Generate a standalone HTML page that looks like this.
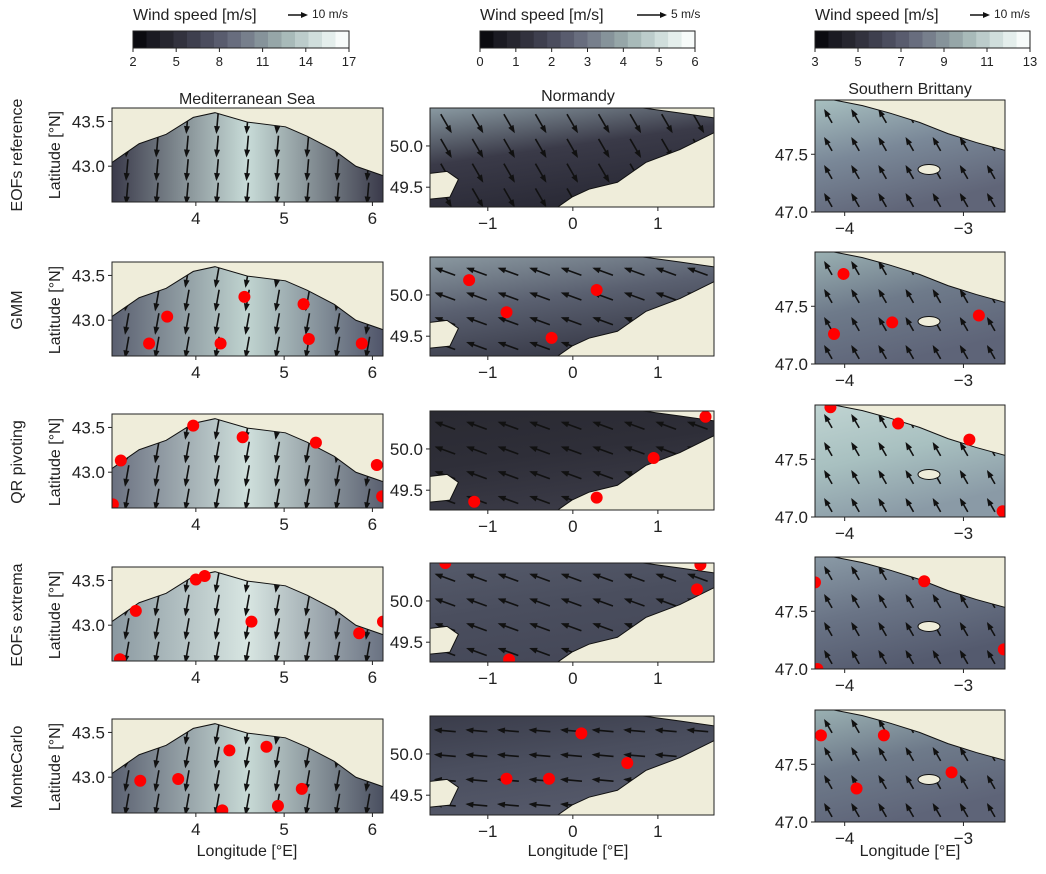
<!DOCTYPE html>
<html><head><meta charset="utf-8"><style>
body{margin:0;background:#fff;}
svg text{font-family:"Liberation Sans","DejaVu Sans",sans-serif;fill:#222;}
</style></head><body>
<svg id="fig" width="1046" height="869" xmlns="http://www.w3.org/2000/svg"></svg>
<script>
// ---------- data ----------
const rowLabels=["EOFs reference","GMM","QR pivoting","EOFs extrema","MonteCarlo"];
const colTitles=["Mediterranean Sea","Normandy","Southern Brittany"];
const cbTicks=[[2,5,8,11,14,17],[0,1,2,3,4,5,6],[3,5,7,9,11,13]];
const cbKeys=["10 m/s","5 m/s","10 m/s"];
const xTicks=[[4,5,6],[-1,0,1],[-4,-3]];
const yTicks=[[43.0,43.5],[49.5,50.0],[47.0,47.5]];
const lonExt=[[3.05,6.12],[-1.68,1.66],[-4.25,-2.65]];
const latExt=[[42.6,43.65],[49.26,50.46],[47.0,47.97]];
// sensor points per panel [lon,lat]
const medPts=[[],
 [[3.47,42.74],[3.675,43.04],[4.28,42.74],[4.55,43.26],[5.22,43.18],[5.28,42.79],[5.88,42.74]],
 [[3.06,42.64],[3.15,43.13],[3.97,43.52],[4.53,43.39],[5.36,43.33],[6.05,43.08],[6.11,42.73]],
 [[3.14,42.62],[3.32,43.16],[4.0,43.51],[4.1,43.55],[4.63,43.04],[5.85,42.91],[6.12,43.04]],
 [[3.37,42.96],[3.8,42.98],[4.3,42.63],[4.38,43.3],[4.8,43.34],[4.93,42.68],[5.2,42.87]]];
const norPts=[[],
 [[-1.22,50.18],[-0.78,49.79],[-0.25,49.48],[0.28,50.06]],
 [[-1.16,49.36],[0.28,49.41],[0.95,49.89],[1.56,50.39]],
 [[-1.5,50.46],[-0.75,49.29],[1.46,50.14],[1.5,50.44]],
 [[-0.78,49.7],[-0.28,49.7],[0.1,50.25],[0.64,49.89]]];
const briPts=[[],
 [[-4.01,47.78],[-4.09,47.26],[-3.6,47.36],[-2.87,47.42]],
 [[-4.12,47.95],[-3.55,47.81],[-2.95,47.67],[-2.67,47.05]],
 [[-4.25,47.75],[-4.23,47.0],[-3.33,47.76],[-2.66,47.17]],
 [[-4.2,47.75],[-3.67,47.75],[-3.9,47.29],[-3.1,47.43]]];
const allPts=[medPts,norPts,briPts];
// arrow direction (deg, 0=east, 90=south) per panel
const arrowDir=[[95,100,100,100,100],[60,200,200,200,185],[240,240,240,240,240]];
// ---------- layout ----------
const colX=[[112,383],[430,714],[815,1005]];
const rowTop=[[108,262,414,567,719],[108,257,411,563,716],[100,252,405,557,710]];
const rowH=[94,99,112];
const seaCols=[
 [["#3a3a4a","#c8dcd8","#3a3a4a"],["#5a5f70","#c0d4d0","#50556a"],["#6a7080","#cfe0dc","#5a6070"],["#8a98a0","#d8e6e2","#6a7282"],["#5a6070","#c8dad6","#4a4f60"]],
 [["#8a9aa2","#3a3a48","#2a2a36"],["#8a98a0","#5a6070","#3a3c4a"],["#2a2a32","#2e2e38","#3a3a46"],["#555a6a","#4a4e5e","#454858"],["#3a3c4a","#4a4e5e","#55596a"]],
 [["#a8c0c0","#7a8898","#606578"],["#9ab0b2","#6e7a8a","#5e6478"],["#c0d4d2","#a8c0c0","#8a9aa6"],["#8a9aa6","#6a7486","#545a6e"],["#9ab0b2","#6e7a8a","#5e6478"]]];
const land=[
 [[0,0],[1,0],[1,0.72],[0.9,0.62],[0.82,0.45],[0.72,0.3],[0.64,0.2],[0.5,0.15],[0.38,0.05],[0.3,0.1],[0.2,0.28],[0.1,0.38],[0,0.58]],
 [[1,0.25],[0.88,0.42],[0.76,0.55],[0.66,0.75],[0.56,0.82],[0.5,0.9],[0.45,1],[1,1]],
 [[0.1,0],[1,0],[1,0.45],[0.85,0.38],[0.7,0.3],[0.55,0.2],[0.4,0.12],[0.25,0.05]]];
const land2=[null,[[0.75,0],[1,0],[1,0.1],[0.88,0.05]],null];
const cot=[[0,0.66],[0.06,0.64],[0.1,0.72],[0.07,0.9],[0,0.92]];
const svg=document.getElementById('fig');const NS="http://www.w3.org/2000/svg";
function mk(t,a,p){const e=document.createElementNS(NS,t);for(const k in a)e.setAttribute(k,a[k]);(p||svg).appendChild(e);return e;}
function txt(x,y,s,size,anchor,p,rot){const e=mk('text',{x:x,y:y,'font-size':size,'text-anchor':anchor||'middle'},p);if(rot)e.setAttribute('transform',`rotate(-90 ${x} ${y})`);e.textContent=s;return e;}
const defs=mk('defs',{});
const cbCols=["#0b0b10","#1a1a22","#26262f","#32323e","#3e3f4e","#4b4d5e","#595c6e","#686d7e","#777f8c","#86939a","#96a6a8","#a8bab9","#bccccb","#d0dedc","#e4eeec","#f7fbfa"];
// colorbars
const cbX=[[133,349],[480,695],[815,1030]];
for(let c=0;c<3;c++){
 const g=mk('g',{},svg);
 const[x0,x1]=cbX[c];const w=(x1-x0)/cbCols.length;
 cbCols.forEach((col,i)=>mk('rect',{x:x0+i*w,y:31,width:w+0.5,height:17,fill:col},g));
 mk('rect',{x:x0,y:31,width:x1-x0,height:17,fill:'none',stroke:'#222','stroke-width':1},g);
 const tk=cbTicks[c];
 tk.forEach((v,i)=>{const x=x0+(x1-x0)*(v-tk[0])/(tk[tk.length-1]-tk[0]);mk('line',{x1:x,x2:x,y1:48,y2:52,stroke:'#222'},g);txt(x,66,String(v),13,'middle',g);});
 const t=txt(x0,20,"Wind speed [m/s]",16,'start',g);
 const kx=x0+(c==1?157:155);
 mk('line',{x1:kx,x2:kx+(c==1?26:16),y1:15,y2:15,stroke:'#111','stroke-width':1.5},g);
 const ax=kx+(c==1?26:16);mk('path',{d:`M${ax+4},15 L${ax-3},12 L${ax-3},18Z`,fill:'#111'},g);
 txt(ax+8,18,cbKeys[c],12,'start',g);
}
// titles
colTitles.forEach((s,c)=>{const t=txt([247,578,910][c],[104,101,94][c],s,16);});
rowLabels.forEach((s,r)=>{const t=txt(22,[155,310,462,615,767][r],s,16,'middle',svg,true);
 const y=txt(60,[155,310,462,615,767][r],"Latitude [°N]",16,'middle',svg,true);});
[247,578,910].forEach(x=>{const t=txt(x,856,"Longitude [°E]",16);});
// panels
for(let c=0;c<3;c++)for(let r=0;r<5;r++){
 const x0=colX[c][0],x1=colX[c][1],y0=rowTop[c][r],h=rowH[c],w=x1-x0;
 const sx=v=>x0+(v-lonExt[c][0])/(lonExt[c][1]-lonExt[c][0])*w;
 const sy=v=>y0+h-(v-latExt[c][0])/(latExt[c][1]-latExt[c][0])*h;
 const g=mk('g',{},svg);
 const id=`cl${c}${r}`;const cp=mk('clipPath',{id:id},defs);mk('rect',{x:x0,y:y0,width:w,height:h},cp);
 const gid=`gr${c}${r}`;const sc=seaCols[c][r];
 const lg=mk('linearGradient',c==0?{id:gid,x1:0,y1:0,x2:1,y2:0}:{id:gid,x1:0,y1:0,x2:0.4,y2:1},defs);
 sc.forEach((col,i)=>mk('stop',{offset:i/2,'stop-color':col},lg));
 const inner=mk('g',{'clip-path':`url(#${id})`},g);
 mk('rect',{x:x0,y:y0,width:w,height:h,fill:`url(#${gid})`},inner);
 const ang=arrowDir[c][r]*Math.PI/180,L=c==2?14:20;const nx=c==2?7:9,ny=4;
 for(let i=0;i<nx;i++)for(let j=0;j<ny;j++){
  const cx=x0+(i+0.5)*w/nx,cy=y0+(j+0.6)*h/ny;
  const dx=Math.cos(ang)*L/2,dy=Math.sin(ang)*L/2;
  mk('line',{x1:cx-dx,y1:cy-dy,x2:cx+dx,y2:cy+dy,stroke:'#111','stroke-width':1.6},inner);
  const hx=cx+dx,hy=cy+dy,px=-Math.sin(ang)*3,py=Math.cos(ang)*3,bx=hx-Math.cos(ang)*6,by=hy-Math.sin(ang)*6;
  mk('path',{d:`M${hx+Math.cos(ang)*2},${hy+Math.sin(ang)*2} L${bx+px},${by+py} L${bx-px},${by-py}Z`,fill:'#111'},inner);
 }
 const poly=pts=>pts.map(p=>`${x0+p[0]*w},${y0+p[1]*h}`).join(' ');
 mk('polygon',{points:poly(land[c]),fill:'#efedda',stroke:'#111','stroke-width':1},inner);
 if(land2[c])mk('polygon',{points:poly(land2[c]),fill:'#efedda',stroke:'#111','stroke-width':1},inner);
 if(c==1)mk('polygon',{points:poly(cot),fill:'#efedda',stroke:'#111','stroke-width':1},inner);
 if(c==2){mk('ellipse',{cx:x0+0.6*w,cy:y0+0.62*h,rx:11,ry:5,fill:'#efedda',stroke:'#111'},inner);}
 allPts[c][r].forEach(p=>{const d=mk('circle',{cx:sx(p[0]),cy:sy(p[1]),r:6,fill:'#ff0000'},inner);});
 mk('rect',{x:x0,y:y0,width:w,height:h,fill:'none',stroke:'#222','stroke-width':1},g);
 xTicks[c].forEach(v=>{const x=sx(v);mk('line',{x1:x,x2:x,y1:y0+h,y2:y0+h+4,stroke:'#222'},g);txt(x,y0+h+22,String(v).replace('-','−'),17,'middle',g);});
 yTicks[c].forEach(v=>{const y=sy(v);mk('line',{x1:x0-4,x2:x0,y1:y,y2:y,stroke:'#222'},g);txt(x0-7,y+6,v.toFixed(1),17,'end',g);});
}
</script>
</body></html>
